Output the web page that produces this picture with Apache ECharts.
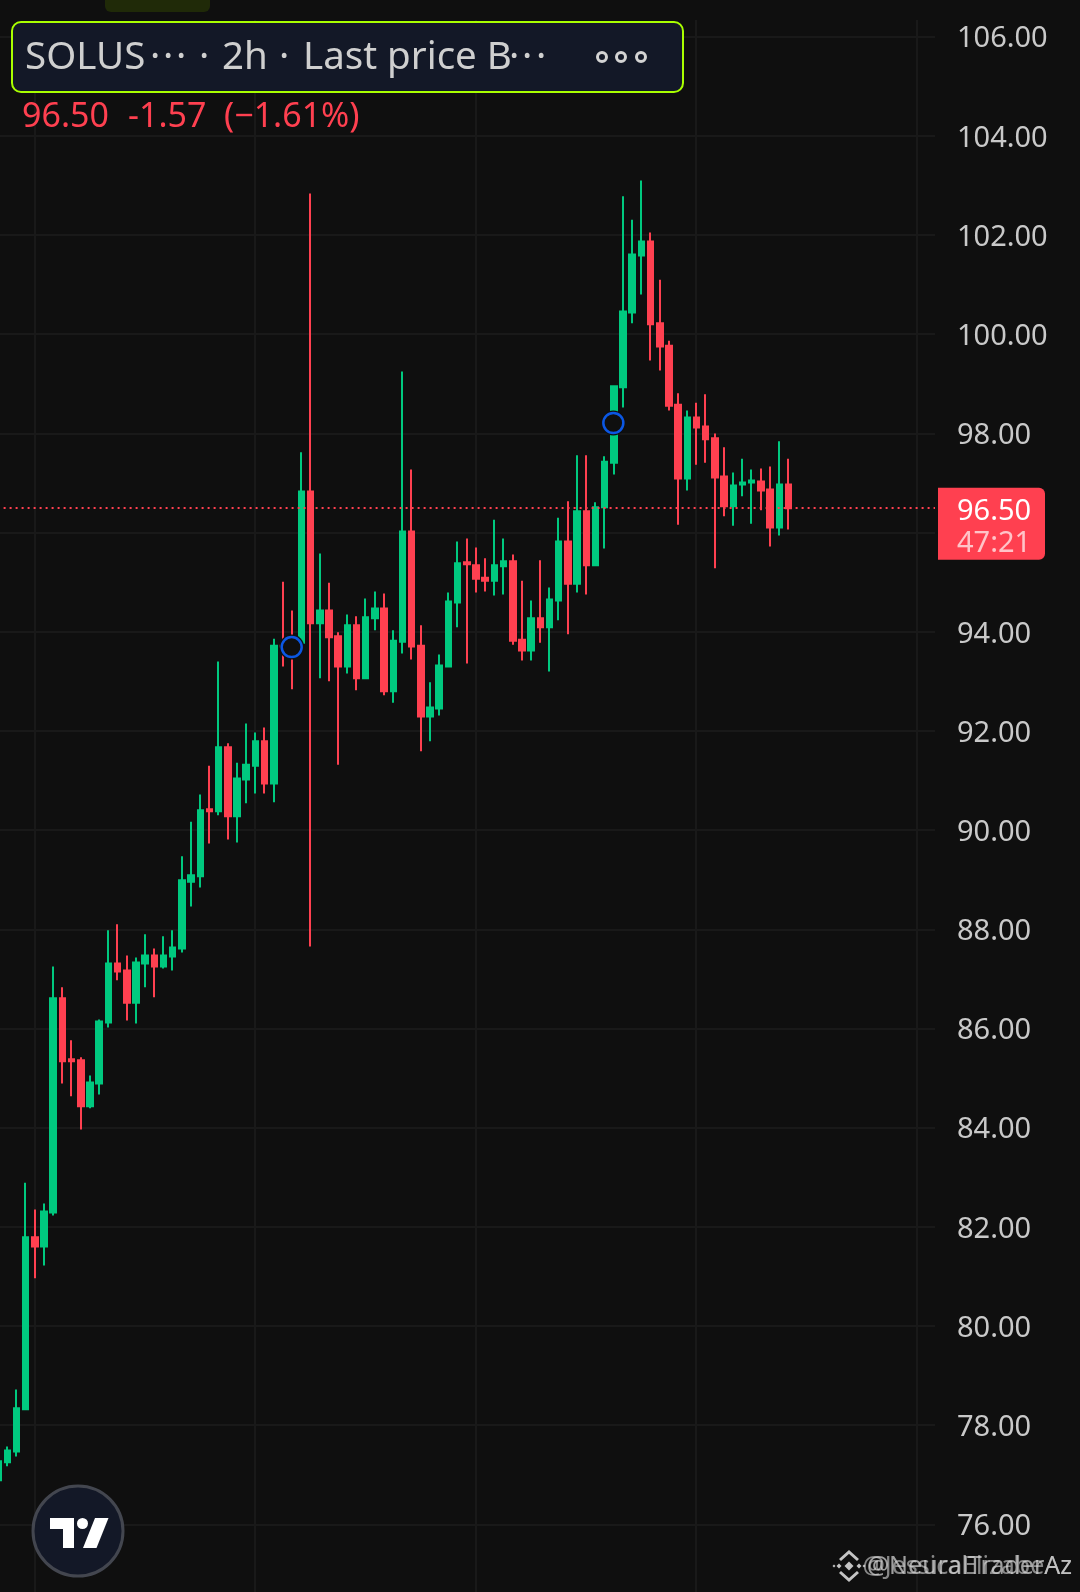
<!DOCTYPE html>
<html>
<head>
<meta charset="utf-8">
<style>html,body{margin:0;padding:0;background:#0f0f0f}#c{width:1080px;height:1592px}</style>
<script src="https://cdn.jsdelivr.net/npm/echarts@6/dist/echarts.min.js"></script>
</head>
<body>
<div id="c"></div>
<script>
const opens = [76.90,77.26,77.48,78.33,81.80,81.61,82.30,86.62,85.39,85.37,84.44,84.90,86.13,87.32,87.18,86.53,87.32,87.48,87.26,87.46,87.62,88.97,89.08,90.43,90.39,91.68,90.29,91.03,91.31,91.80,90.95,93.73,93.83,93.79,96.84,94.18,94.44,93.92,93.31,94.14,93.07,94.28,94.48,92.81,93.81,96.03,93.73,92.30,92.46,93.31,94.60,95.41,95.35,95.10,95.04,95.33,95.43,93.85,93.63,94.28,94.10,94.64,95.83,94.98,96.44,95.35,96.52,97.42,98.94,100.45,101.60,101.88,100.23,99.78,98.59,97.10,98.33,98.15,97.91,97.14,96.54,96.98,97.02,97.04,96.88,96.11,96.98];
const closes = [77.28,77.50,78.35,81.80,81.61,82.32,86.62,85.35,85.35,84.44,84.92,86.15,87.32,87.16,86.53,87.34,87.48,87.26,87.48,87.64,89.00,89.10,90.41,90.39,91.68,90.29,91.05,91.33,91.80,90.95,93.73,93.71,93.63,96.84,94.18,94.44,93.90,93.31,94.14,93.07,94.30,94.48,92.81,93.83,96.03,93.71,92.30,92.48,93.33,94.62,95.39,95.37,95.08,95.04,95.35,95.43,93.83,93.63,94.28,94.10,94.66,95.83,94.98,96.44,95.35,96.52,97.44,98.96,100.47,101.62,101.88,100.21,99.76,98.57,97.10,98.33,98.13,97.89,97.12,96.54,96.96,97.02,97.06,96.86,96.11,96.98,96.50];
const lows = [76.90,77.18,77.38,78.31,80.97,81.23,82.24,84.90,84.64,83.97,84.40,84.68,86.03,86.98,86.17,86.11,86.84,86.64,87.22,87.18,87.54,88.47,88.85,89.74,90.31,89.82,89.76,90.55,90.75,90.75,90.57,93.31,92.85,93.79,87.66,93.07,93.01,91.33,93.17,92.83,93.07,94.04,92.73,92.58,93.57,93.45,91.60,91.80,92.32,93.29,94.10,93.37,94.80,94.82,94.74,94.76,93.75,93.43,93.43,93.79,93.21,94.24,93.96,94.80,94.76,95.35,95.69,97.18,98.53,100.23,100.81,99.48,99.28,98.47,96.17,96.86,97.38,97.42,95.29,96.34,96.15,96.74,96.19,96.46,95.73,95.95,96.07];
const highs = [77.28,77.58,78.73,82.90,82.36,82.48,87.26,86.84,85.77,85.43,85.06,86.19,87.99,88.11,87.48,87.44,87.91,87.62,87.87,87.99,89.48,90.18,90.73,91.31,93.41,91.76,91.37,92.16,91.98,92.08,93.87,95.02,94.44,97.63,102.85,95.59,95.00,94.00,94.36,94.32,94.68,94.82,94.78,94.04,99.26,97.28,94.14,92.99,93.55,94.80,95.83,95.89,95.71,95.49,96.27,95.89,95.57,95.04,94.64,95.45,94.90,96.31,96.64,97.57,97.57,96.62,97.55,98.98,102.79,102.32,103.11,102.06,101.11,99.88,98.82,98.47,98.63,98.80,98.01,97.73,97.22,97.50,97.28,97.30,97.34,97.85,97.50];
const signalIndex = [32, 67];
const signalPrice = [93.69, 98.21];
const lastPrice = 96.50;
const countdown = '47:21';
const watermarks = ['@NeuralTraderAz', '@JessicaElizabeAz'];
const categories = Array.from({length: 103}, (_, i) => String(i));

const BG = '#0f0f0f', GRID = '#191919', UP = '#00c97f', DOWN = '#ff4050', TXT = '#c9c9c9';
const FONT = '"Noto Sans", sans-serif';
const chart = echarts.init(document.getElementById('c'));
const candles = opens.map((o, i) => [o, closes[i], lows[i], highs[i]]);
const signals = signalIndex.map((x, i) => [x, signalPrice[i]]);

function diamond(cx, cy, r, fill) {
  return {type: 'polygon', z: 100, shape: {points: [[cx, cy - r], [cx + r, cy], [cx, cy + r], [cx - r, cy]]}, style: {fill}};
}
function chevron(pts) {
  return {type: 'polyline', z: 100, shape: {points: pts}, style: {stroke: '#c4c4c4', lineWidth: 3, fill: 'none'}};
}
function txt(x, y, text, font, fill, align) {
  return {type: 'text', z: 101, x, y, style: {text, font, fill, align: align || 'left', verticalAlign: 'middle'}};
}
const cx = 849, cy = 1566;
const HF = '38.5px ' + FONT, CF = '34px ' + FONT;
const HC = '#cfcfcf';
const overlay = [
  {type: 'rect', z: 90, shape: {x: 0, y: 0, width: 1080, height: 20}, style: {fill: BG}},
  {type: 'rect', z: 100, shape: {x: 105, y: -10, width: 105, height: 22, r: 6}, style: {fill: '#202a08'}},
  {type: 'rect', z: 100, shape: {x: 12, y: 22, width: 671, height: 70, r: 9}, style: {fill: '#131827', stroke: '#a9ff00', lineWidth: 2}},
  txt(25, 58, 'SOLUS', HF, HC),
  txt(150, 58, '·', HF, HC), txt(163, 58, '·', HF, HC), txt(176, 58, '·', HF, HC),
  txt(199, 58, '·', HF, HC),
  txt(222, 58, '2h', HF, HC),
  txt(279, 58, '·', HF, HC),
  txt(303, 58, 'Last price B', HF, HC),
  txt(509, 58, '·', HF, HC), txt(522, 58, '·', HF, HC), txt(536, 58, '·', HF, HC),
  {type: 'circle', z: 100, shape: {cx: 602, cy: 57, r: 4.5}, style: {fill: 'none', stroke: '#d4d4d4', lineWidth: 3}},
  {type: 'circle', z: 100, shape: {cx: 621, cy: 57, r: 4.5}, style: {fill: 'none', stroke: '#d4d4d4', lineWidth: 3}},
  {type: 'circle', z: 100, shape: {cx: 641, cy: 57, r: 4.5}, style: {fill: 'none', stroke: '#d4d4d4', lineWidth: 3}},
  txt(22, 117, '96.50', CF, DOWN),
  txt(128, 117, '-1.57', CF, DOWN),
  txt(224, 117, '(−1.61%)', CF, DOWN),
  {type: 'circle', z: 100, shape: {cx: 78, cy: 1531, r: 45}, style: {fill: '#131827', stroke: '#43464f', lineWidth: 3}},
  {type: 'polygon', z: 101, shape: {points: [[50, 1518], [74, 1518], [74, 1548], [63, 1548], [63, 1529], [50, 1529]]}, style: {fill: '#fff'}},
  {type: 'circle', z: 101, shape: {cx: 82.5, cy: 1523.5, r: 5.5}, style: {fill: '#fff'}},
  {type: 'polygon', z: 101, shape: {points: [[95, 1518], [108.5, 1518], [96.5, 1548], [83, 1548]]}, style: {fill: '#fff'}},
  diamond(cx, cy, 4.5, '#c4c4c4'),
  diamond(cx - 10, cy, 2.5, '#c4c4c4'),
  diamond(cx + 10, cy, 2.5, '#c4c4c4'),
  diamond(cx - 15, cy, 1.5, '#c4c4c4'),
  diamond(cx + 15, cy, 1.5, '#c4c4c4'),
  chevron([[cx - 9, cy - 6], [cx, cy - 14], [cx + 9, cy - 6]]),
  chevron([[cx - 9, cy + 6], [cx, cy + 14], [cx + 9, cy + 6]]),
  txt(1072, 1567, watermarks[0], '25px ' + FONT, 'rgba(215,215,215,0.72)', 'right'),
  txt(1072, 1567, watermarks[1], '25px ' + FONT, 'rgba(215,215,215,0.6)', 'right')
];

chart.setOption({
  animation: false,
  backgroundColor: BG,
  grid: {left: -2.4, top: -62.48, width: 937.4, height: 1685.96, outerBoundsMode: 'none', containLabel: false},
  xAxis: {
    type: 'category', data: categories, boundaryGap: false,
    axisLine: {show: false}, axisTick: {show: false}, axisLabel: {show: false},
    splitLine: {show: true, interval: (i) => (i - 4) % 24 === 0, lineStyle: {color: GRID, width: 2}}
  },
  yAxis: {
    type: 'value', position: 'right', min: 74, max: 108, interval: 2, scale: true,
    axisLine: {show: false}, axisTick: {show: false},
    axisLabel: {
      margin: 22, formatter: (v) => '{p|' + v.toFixed(2) + '}',
      rich: {p: {color: TXT, fontSize: 29, fontFamily: FONT, padding: [5, 0, 0, 0]}}
    },
    splitLine: {show: true, lineStyle: {color: GRID, width: 2}}
  },
  series: [
    {
      type: 'candlestick', data: candles, barWidth: 6, z: 3,
      itemStyle: {color: UP, color0: DOWN, borderColor: UP, borderColor0: DOWN, borderWidth: 2},
      markLine: {
        silent: true, symbol: 'none', label: {show: false}, z: 5, animation: false,
        lineStyle: {color: DOWN, type: [2, 4], width: 2},
        data: [{yAxis: lastPrice}]
      }
    },
    {type: 'scatter', data: signals, symbol: 'circle', symbolSize: 25, z: 6, silent: true, itemStyle: {color: BG, opacity: 1}},
    {type: 'scatter', data: signals, symbol: 'circle', symbolSize: 20, z: 7, silent: true, itemStyle: {color: BG, borderColor: '#0b57e3', borderWidth: 2.5, opacity: 1}}
  ],
  graphic: {elements: overlay}
});

const py = chart.convertToPixel({yAxisIndex: 0}, lastPrice);
chart.setOption({
  graphic: {elements: overlay.concat([
    {type: 'rect', z: 100, shape: {x: 938, y: py - 20, width: 107, height: 72, r: [0, 6, 6, 0]}, style: {fill: DOWN}},
    txt(957, py + 4, lastPrice.toFixed(2), '29px ' + FONT, '#ffffff'),
    txt(957, py + 36, countdown, '29px ' + FONT, '#ffc4c8')
  ])}
});

// Candle paths snap to half pixels; nudge them so 2px wicks land on whole pixels.
const zr = chart.getZr();
zr.storage.getDisplayList(true).forEach((el) => {
  if (el.type === 'normalCandlestickBox') { el.x += 0.5; el.y += 0.5; el.markRedraw(); }
  if (el.type === 'ec-line') { el.shape.y1 = el.shape.y2 = Math.round(py); el.markRedraw(); }
});
zr.refresh();
</script>
</body>
</html>
